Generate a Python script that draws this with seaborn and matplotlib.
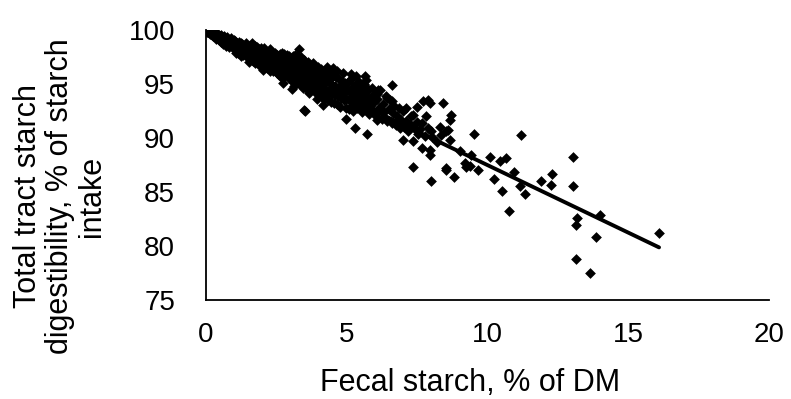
import matplotlib
matplotlib.use("Agg")
import matplotlib.pyplot as plt
import seaborn as sns
import numpy as np
import pandas as pd

# ---------------- data ----------------
fecal_starch = [
    # dense band 0-0.5
    0.02, 0.04, 0.06, 0.08, 0.10, 0.12, 0.14, 0.16, 0.18, 0.20,
    0.22, 0.24, 0.26, 0.28, 0.30, 0.32, 0.34, 0.36, 0.38, 0.40,
    0.42, 0.44, 0.46, 0.48, 0.50, 0.05, 0.15, 0.25, 0.35, 0.45,
    # 0.5-1.0
    0.52, 0.55, 0.58, 0.60, 0.62, 0.65, 0.68, 0.70, 0.72, 0.75,
    0.78, 0.80, 0.82, 0.85, 0.88, 0.90, 0.92, 0.95, 0.98, 1.00,
    0.54, 0.63, 0.71, 0.77, 0.84, 0.87, 0.93, 0.97, 0.66, 0.74,
    # 1.0-1.5
    1.02, 1.05, 1.08, 1.10, 1.12, 1.15, 1.18, 1.20, 1.22, 1.25,
    1.28, 1.30, 1.32, 1.35, 1.38, 1.40, 1.42, 1.45, 1.48, 1.50,
    1.04, 1.14, 1.24, 1.34, 1.44, 1.07, 1.17, 1.27, 1.37, 1.47,
    # 1.5-2.0
    1.52, 1.55, 1.58, 1.60, 1.62, 1.65, 1.68, 1.70, 1.72, 1.75,
    1.78, 1.80, 1.82, 1.85, 1.88, 1.90, 1.92, 1.95, 1.98, 2.00,
    1.54, 1.64, 1.74, 1.84, 1.94, 1.57, 1.67, 1.77, 1.87, 1.97,
    # 2.0-2.5
    2.02, 2.05, 2.08, 2.10, 2.12, 2.15, 2.18, 2.20, 2.22, 2.25,
    2.28, 2.30, 2.32, 2.35, 2.38, 2.40, 2.42, 2.45, 2.48, 2.50,
    2.04, 2.14, 2.24, 2.34, 2.44, 2.07, 2.17, 2.27, 2.37, 2.47,
    # 2.5-3.0
    2.52, 2.55, 2.58, 2.60, 2.62, 2.65, 2.68, 2.70, 2.72, 2.75,
    2.78, 2.80, 2.82, 2.85, 2.88, 2.90, 2.92, 2.95, 2.98, 3.00,
    2.54, 2.64, 2.74, 2.84, 2.94, 2.57, 2.67, 2.77, 2.87, 2.97,
    # 3.0-3.5
    3.02, 3.05, 3.08, 3.10, 3.12, 3.15, 3.18, 3.20, 3.22, 3.25,
    3.28, 3.30, 3.32, 3.35, 3.38, 3.40, 3.42, 3.45, 3.48, 3.50,
    3.04, 3.14, 3.24, 3.34, 3.44, 3.17, 3.27, 3.37,
    # 3.5-4.0
    3.52, 3.55, 3.58, 3.60, 3.62, 3.65, 3.68, 3.70, 3.72, 3.75,
    3.78, 3.80, 3.82, 3.85, 3.88, 3.90, 3.92, 3.95, 3.98, 4.00,
    3.57, 3.67, 3.77, 3.87, 3.97,
    # 4.0-4.5
    4.02, 4.05, 4.08, 4.10, 4.12, 4.15, 4.18, 4.20, 4.22, 4.25,
    4.28, 4.30, 4.32, 4.35, 4.38, 4.40, 4.42, 4.45, 4.48, 4.50,
    4.07, 4.17, 4.27, 4.37, 4.47,
    # 4.5-5.0
    4.52, 4.55, 4.58, 4.60, 4.62, 4.65, 4.68, 4.70, 4.72, 4.75,
    4.78, 4.80, 4.82, 4.85, 4.88, 4.90, 4.92, 4.95, 4.98, 5.00,
    4.63, 4.83,
    # 5.0-5.5
    5.02, 5.05, 5.08, 5.10, 5.12, 5.15, 5.18, 5.20, 5.22, 5.25,
    5.28, 5.30, 5.32, 5.35, 5.38, 5.40, 5.42, 5.45, 5.48, 5.50,
    # 5.5-6.0
    5.52, 5.55, 5.58, 5.60, 5.62, 5.65, 5.68, 5.70, 5.72, 5.75,
    5.78, 5.80, 5.85, 5.88, 5.90, 5.95, 5.98, 6.00,
    # 6.0-7.0
    6.05, 6.10, 6.15, 6.20, 6.25, 6.30, 6.35, 6.40, 6.45, 6.50,
    6.55, 6.60, 6.65, 6.70, 6.75, 6.80, 6.85, 6.90, 6.95, 7.00,
    # 7.0-8.5
    7.05, 7.10, 7.20, 7.25, 7.30, 7.40, 7.50, 7.55, 7.60, 7.70,
    7.80, 7.90, 8.05, 8.20, 8.35,
    # scattered points
    5.66, 6.62, 6.13, 6.43, 6.60, 7.13, 7.90, 7.96, 7.72, 8.43,
    7.49, 8.73, 8.67, 7.37, 7.84, 8.32, 8.61, 8.00, 5.72, 6.07,
    7.01, 7.37, 7.67, 7.96, 8.67, 7.37, 8.53,
    3.32, 3.11, 5.16, 5.69, 2.74, 3.06, 3.49, 3.94, 4.18, 4.95,
    4.18, 4.53, 5.36, 5.00, 6.07, 5.30, 3.53, 8.02, 7.96,
    8.55, 9.53, 11.19, 9.02, 9.44, 10.09, 10.66, 10.44, 9.20, 9.26,
    9.38, 9.67, 8.55, 8.81, 10.24, 10.94, 10.54, 11.15, 11.33, 10.76,
    13.04, 12.30, 11.92, 12.25, 13.04, 14.02, 13.18, 13.14, 13.85, 13.16,
    13.66, 16.09,
]
digestibility = [
    99.97, 99.90, 99.95, 99.85, 99.80, 99.88, 99.70, 99.82, 99.60, 99.75,
    99.55, 99.70, 99.45, 99.65, 99.60, 99.35, 99.70, 99.50, 99.30, 99.60,
    99.25, 99.50, 99.40, 99.10, 99.45, 99.80, 99.60, 99.80, 99.20, 99.65,
    99.20, 99.50, 98.90, 99.30, 99.00, 99.40, 98.80, 99.20, 98.95, 99.35,
    98.70, 99.10, 98.60, 99.00, 98.80, 99.25, 98.50, 98.90, 98.65, 99.10,
    98.90, 98.70, 98.50, 99.00, 98.40, 98.70, 99.00, 98.30, 99.10, 98.80,
    98.60, 99.00, 98.30, 98.80, 98.10, 98.60, 98.90, 98.20, 98.50, 98.00,
    98.40, 98.70, 97.90, 98.30, 98.60, 97.80, 98.20, 98.50, 97.70, 98.10,
    98.20, 97.90, 98.80, 97.70, 98.80, 97.90, 98.40, 97.60, 98.00, 97.50,
    98.40, 97.60, 98.00, 98.60, 97.40, 97.90, 98.30, 97.20, 97.80, 98.50,
    97.50, 98.00, 97.10, 97.70, 98.20, 96.90, 97.50, 98.00, 97.30, 97.70,
    97.00, 98.80, 96.90, 98.40, 96.70, 97.30, 97.10, 98.10, 97.00, 98.30,
    97.00, 97.60, 98.10, 96.70, 97.40, 97.90, 96.50, 97.20, 97.80, 96.80,
    97.50, 98.20, 96.40, 97.00, 97.60, 96.20, 97.30, 97.90, 96.60, 97.10,
    96.30, 97.00, 98.00, 96.90, 96.30, 98.30, 97.60, 96.20, 97.90, 97.40,
    97.70, 96.00, 96.80, 97.40, 95.80, 96.50, 97.20, 97.90, 96.10, 96.90,
    97.50, 95.70, 96.40, 97.10, 97.70, 95.90, 96.60, 97.30, 95.50, 96.30,
    96.50, 97.80, 95.90, 96.00, 96.90, 97.00, 95.60, 97.80, 96.70, 97.60,
    97.00, 95.30, 96.10, 96.80, 97.50, 95.60, 96.40, 97.10, 95.10, 95.90,
    96.60, 97.30, 95.40, 96.20, 96.90, 94.90, 95.70, 96.50, 97.20, 95.20,
    96.00, 94.80, 97.60, 95.00, 94.60, 97.70, 95.50, 97.50,
    96.00, 96.80, 94.60, 95.40, 96.30, 97.00, 94.90, 95.70, 96.50, 94.40,
    95.20, 96.10, 96.90, 94.70, 95.50, 96.30, 94.20, 95.00, 95.90, 96.60,
    95.80, 94.20, 95.90, 96.70, 94.40,
    94.00, 94.80, 95.60, 96.40, 93.80, 94.60, 95.40, 96.20, 93.60, 94.40,
    95.20, 96.00, 96.60, 93.50, 94.30, 95.10, 95.90, 93.30, 94.10, 94.90,
    95.10, 94.10, 93.90, 95.60, 95.60,
    95.70, 93.20, 94.00, 94.80, 95.60, 96.20, 93.10, 93.90, 94.70, 95.50,
    92.90, 93.70, 94.50, 95.30, 96.00, 93.50, 94.30, 95.10, 92.80, 93.60,
    94.40, 94.00,
    94.40, 95.20, 92.70, 93.50, 94.30, 95.50, 93.00, 93.90, 94.70, 92.50,
    93.30, 94.10, 94.90, 95.70, 92.80, 93.60, 94.40, 95.20, 93.10, 93.90,
    94.70, 92.40, 93.20, 94.00, 95.00, 92.70, 93.50, 94.30, 92.90, 93.70,
    94.50, 92.20, 93.00, 93.80, 94.60, 92.50, 93.30, 94.10,
    92.00, 93.60, 92.80, 94.40, 91.80, 93.10, 92.40, 93.90, 91.60, 92.70,
    93.50, 91.40, 92.30, 93.00, 91.20, 92.00, 92.80, 90.90, 91.70, 92.50,
    91.00, 91.60, 90.60, 91.30, 92.00, 90.90, 91.50, 90.40, 90.80, 91.40,
    90.20, 90.90, 90.10, 89.60, 90.30,
    95.70, 94.90, 94.40, 93.70, 93.40, 92.80, 93.50, 93.20, 93.40, 93.20,
    92.90, 92.10, 91.70, 92.10, 92.00, 91.05, 90.70, 90.60, 90.40, 91.70,
    89.80, 89.70, 89.10, 88.90, 89.80, 87.30, 87.20,
    98.20, 97.60, 95.90, 95.40, 95.10, 94.50, 92.60, 93.60, 93.05, 94.75,
    96.10, 96.50, 94.30, 91.80, 94.10, 90.90, 92.50, 86.05, 88.40,
    90.60, 90.40, 90.30, 88.80, 88.40, 88.20, 88.15, 87.90, 87.70, 87.35,
    87.40, 87.00, 87.00, 86.40, 86.20, 86.85, 85.10, 85.60, 84.80, 83.20,
    88.20, 86.70, 86.05, 85.65, 85.60, 82.90, 82.60, 81.90, 80.80, 78.80,
    77.50, 81.20,
]

# linear trend line shown in the reference
fit_intercept = 100.0
fit_slope = -1.25
fit_range = [0.0, 16.1]

x_ticks = [0, 5, 10, 15, 20]
y_ticks = [75, 80, 85, 90, 95, 100]
x_label = "Fecal starch, % of DM"
y_label = "Total tract starch\ndigestibility, % of starch\nintake"

# ---------------- plot ----------------
sns.set_theme(style="white")
plt.rcParams["font.family"] = ["Liberation Sans", "DejaVu Sans"]

df = pd.DataFrame({"x": fecal_starch, "y": digestibility})
fit_x = np.array(fit_range)
fit_df = pd.DataFrame({"x": fit_x, "y": fit_intercept + fit_slope * fit_x})

fig = plt.figure(figsize=(7.91, 3.99), dpi=100)
ax = fig.add_axes([0.260, 0.248, 0.712, 0.677])

sns.scatterplot(data=df, x="x", y="y", ax=ax, marker="D", s=30,
                color="black", edgecolor="black", linewidth=0, zorder=3)
sns.lineplot(data=fit_df, x="x", y="y", ax=ax, color="black", lw=2.8,
             zorder=4)

FS_TICK = 20
FS_LABEL = 22
ax.set_xlim(0, 20)
ax.set_ylim(75, 100)
ax.set_xticks(x_ticks)
ax.set_yticks(y_ticks)
ax.tick_params(axis="both", length=0, labelsize=FS_TICK, colors="black")
ax.tick_params(axis="x", pad=16)
ax.tick_params(axis="y", pad=22)
for s in ["top", "right"]:
    ax.spines[s].set_visible(False)
for s in ["left", "bottom"]:
    ax.spines[s].set_color("black")
    ax.spines[s].set_linewidth(1.3)
ax.set_xlabel("")
ax.set_ylabel("")

fig.text(470 / 791, 1 - 383 / 399, x_label, ha="center", va="center",
         fontsize=FS_LABEL, color="black")
fig.text(60 / 791, 1 - 196 / 399, y_label, ha="center", va="center",
         rotation=90, multialignment="center", fontsize=FS_LABEL,
         color="black", linespacing=1.1)

fig.savefig("out.png", dpi=100)
